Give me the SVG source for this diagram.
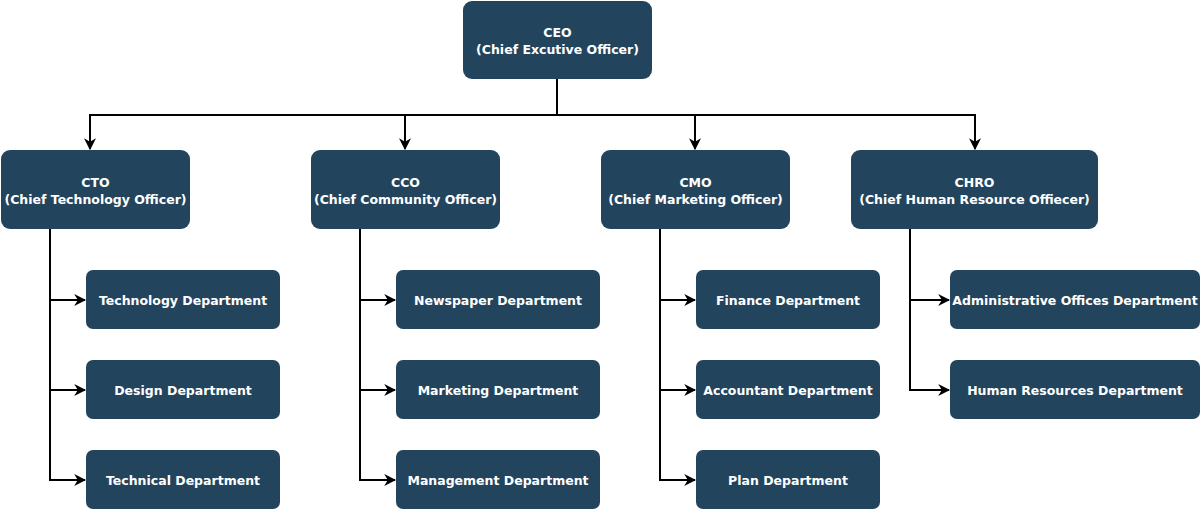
<svg xmlns="http://www.w3.org/2000/svg" width="1200" height="510" viewBox="0 0 1200 510">
<style>
.box{fill:#23445D;}
.t{font-family:"DejaVu Sans",Verdana,sans-serif;font-weight:bold;font-size:12.5px;fill:#ffffff;text-anchor:middle;dominant-baseline:central;}
.c{fill:none;stroke:#000000;stroke-width:2;}
</style>
<defs>
<marker id="ah" viewBox="0 0 10 10" refX="9" refY="5" markerWidth="6" markerHeight="6" markerUnits="strokeWidth" orient="auto">
<path d="M0,0 L10,5 L0,10 L3,5 Z" fill="#000"/>
</marker>
</defs>
<rect width="1200" height="510" fill="#ffffff"/>
<g id="connectors">
<path class="c" d="M557,79 V115 H90 V149" marker-end="url(#ah)"/>
<path class="c" d="M557,115 H405 V149" marker-end="url(#ah)"/>
<path class="c" d="M557,115 H695 V149" marker-end="url(#ah)"/>
<path class="c" d="M557,115 H975 V149" marker-end="url(#ah)"/>
<path class="c" d="M50,229 V300 H85" marker-end="url(#ah)"/>
<path class="c" d="M50,300 V390 H85" marker-end="url(#ah)"/>
<path class="c" d="M50,390 V480 H85" marker-end="url(#ah)"/>
<path class="c" d="M360,229 V300 H395" marker-end="url(#ah)"/>
<path class="c" d="M360,300 V390 H395" marker-end="url(#ah)"/>
<path class="c" d="M360,390 V480 H395" marker-end="url(#ah)"/>
<path class="c" d="M660,229 V300 H695" marker-end="url(#ah)"/>
<path class="c" d="M660,300 V390 H695" marker-end="url(#ah)"/>
<path class="c" d="M660,390 V480 H695" marker-end="url(#ah)"/>
<path class="c" d="M910,229 V300 H949" marker-end="url(#ah)"/>
<path class="c" d="M910,300 V390 H949" marker-end="url(#ah)"/>
</g>
<g id="ceo"><rect class="box" x="463" y="1" width="189" height="78" rx="9"/><text class="t" x="557.5" y="32.5">CEO</text><text class="t" x="557.5" y="49.5">(Chief Excutive Officer)</text></g>
<g id="cto"><rect class="box" x="1" y="150" width="189" height="79" rx="9"/><text class="t" x="95.5" y="182.5">CTO</text><text class="t" x="95.5" y="199.5">(Chief Technology Officer)</text></g>
<g id="cco"><rect class="box" x="311" y="150" width="189" height="79" rx="9"/><text class="t" x="405.5" y="182.5">CCO</text><text class="t" x="405.5" y="199.5">(Chief Community Officer)</text></g>
<g id="cmo"><rect class="box" x="601" y="150" width="189" height="79" rx="9"/><text class="t" x="695.5" y="182.5">CMO</text><text class="t" x="695.5" y="199.5">(Chief Marketing Officer)</text></g>
<g id="chro"><rect class="box" x="851" y="150" width="247" height="79" rx="9"/><text class="t" x="974.5" y="182.5">CHRO</text><text class="t" x="974.5" y="199.5">(Chief Human Resource Offiecer)</text></g>
<g id="tech"><rect class="box" x="86" y="270" width="194" height="59" rx="7"/><text class="t" x="183" y="300.5">Technology Department</text></g>
<g id="design"><rect class="box" x="86" y="360" width="194" height="59" rx="7"/><text class="t" x="183" y="390.5">Design Department</text></g>
<g id="technical"><rect class="box" x="86" y="450" width="194" height="59" rx="7"/><text class="t" x="183" y="480.5">Technical Department</text></g>
<g id="news"><rect class="box" x="396" y="270" width="204" height="59" rx="7"/><text class="t" x="498" y="300.5">Newspaper Department</text></g>
<g id="marketing"><rect class="box" x="396" y="360" width="204" height="59" rx="7"/><text class="t" x="498" y="390.5">Marketing Department</text></g>
<g id="management"><rect class="box" x="396" y="450" width="204" height="59" rx="7"/><text class="t" x="498" y="480.5">Management Department</text></g>
<g id="finance"><rect class="box" x="696" y="270" width="184" height="59" rx="7"/><text class="t" x="788" y="300.5">Finance Department</text></g>
<g id="accountant"><rect class="box" x="696" y="360" width="184" height="59" rx="7"/><text class="t" x="788" y="390.5">Accountant Department</text></g>
<g id="plan"><rect class="box" x="696" y="450" width="184" height="59" rx="7"/><text class="t" x="788" y="480.5">Plan Department</text></g>
<g id="admin"><rect class="box" x="950" y="270" width="250" height="59" rx="7"/><text class="t" x="1075" y="300.5">Administrative Offices Department</text></g>
<g id="hr"><rect class="box" x="950" y="360" width="250" height="59" rx="7"/><text class="t" x="1075" y="390.5">Human Resources Department</text></g>
</svg>
